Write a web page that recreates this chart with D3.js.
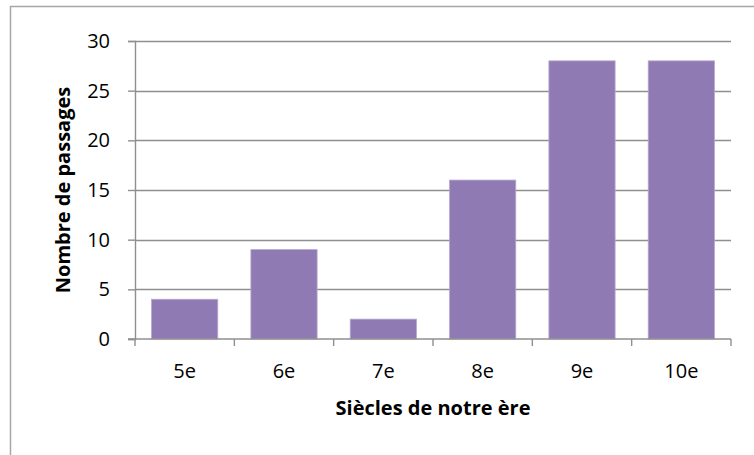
<!DOCTYPE html>
<html>
<head>
<meta charset="utf-8">
<script src="https://cdn.jsdelivr.net/npm/d3@7"></script>
<style>
  body { margin: 0; background: #fff; }
  svg { display: block; }
  text { font-family: "Open Sans", "Noto Sans", sans-serif; fill: #000; }
</style>
</head>
<body>
<div id="chart"></div>
<script>
// data
const siecles = ['5e', '6e', '7e', '8e', '9e', '10e'];
const passages = [4, 9, 2, 16, 28, 28];
const yTicks = [0, 5, 10, 15, 20, 25, 30];

const width = 754, height = 455;
const margin = { top: 41, right: 23, bottom: 116, left: 135 };

const svg = d3.select('#chart').append('svg')
  .attr('width', width)
  .attr('height', height);

// chart frame (only top and left edges show in the picture)
svg.append('rect')
  .attr('x', 10.5).attr('y', 6.5)
  .attr('width', width + 20).attr('height', height + 20)
  .attr('fill', 'none')
  .attr('stroke', '#a6a6a6')
  .attr('stroke-width', 1.5);

const x = d3.scaleBand()
  .domain(siecles)
  .range([margin.left, width - margin.right])
  .paddingInner(1 / 3)
  .paddingOuter(1 / 6);

const y = d3.scaleLinear()
  .domain([0, 30])
  .range([height - margin.bottom, margin.top]);

// horizontal gridlines
svg.append('g')
  .selectAll('line')
  .data(yTicks.filter(d => d > 0))
  .join('line')
  .attr('x1', margin.left)
  .attr('x2', width - margin.right)
  .attr('y1', d => Math.round(y(d)) + 0.5)
  .attr('y2', d => Math.round(y(d)) + 0.5)
  .attr('stroke', '#8f8f8f')
  .attr('stroke-width', 1.4);

// bars
svg.append('g')
  .selectAll('rect')
  .data(passages)
  .join('rect')
  .attr('x', (d, i) => x(siecles[i]))
  .attr('y', d => y(d))
  .attr('width', x.bandwidth())
  .attr('height', d => y(0) - y(d))
  .attr('fill', '#8f7ab4')
  .attr('stroke', '#b6a7cf')
  .attr('stroke-width', 0.8);

// y axis
const yAxis = svg.append('g')
  .attr('transform', `translate(${margin.left},0)`)
  .call(d3.axisLeft(y).tickValues(yTicks).tickSize(7).tickPadding(18));
yAxis.select('.domain').attr('stroke', '#8f8f8f').attr('stroke-width', 1.4);
yAxis.selectAll('.tick line').attr('stroke', '#8f8f8f').attr('stroke-width', 1.4);
yAxis.selectAll('text').attr('font-size', 20).style('font-family', '"Open Sans", sans-serif');

// x axis, ticks at band boundaries
const xAxis = svg.append('g')
  .attr('transform', `translate(0,${y(0)})`);
xAxis.append('line')
  .attr('x1', margin.left - 7).attr('x2', width - margin.right)
  .attr('stroke', '#8f8f8f').attr('stroke-width', 1.4);
const step = x.step();
xAxis.selectAll('.xt')
  .data(d3.range(siecles.length + 1))
  .join('line')
  .attr('class', 'xt')
  .attr('x1', i => margin.left + i * step)
  .attr('x2', i => margin.left + i * step)
  .attr('y1', 0).attr('y2', 7)
  .attr('stroke', '#8f8f8f').attr('stroke-width', 1.4);
xAxis.selectAll('.xl')
  .data(siecles)
  .join('text')
  .attr('class', 'xl')
  .attr('x', d => x(d) + x.bandwidth() / 2)
  .attr('y', 39)
  .attr('text-anchor', 'middle')
  .attr('font-size', 20)
  .text(d => d);

// axis titles
svg.append('text')
  .attr('x', (margin.left + width - margin.right) / 2)
  .attr('y', 415)
  .attr('text-anchor', 'middle')
  .attr('font-size', 20)
  .attr('font-weight', 'bold')
  .text('Siècles de notre ère');

svg.append('text')
  .attr('transform', `translate(70,${(y(0) + y(30)) / 2}) rotate(-90)`)
  .attr('text-anchor', 'middle')
  .attr('font-size', 20)
  .attr('font-weight', 'bold')
  .text('Nombre de passages');
</script>
</body>
</html>
